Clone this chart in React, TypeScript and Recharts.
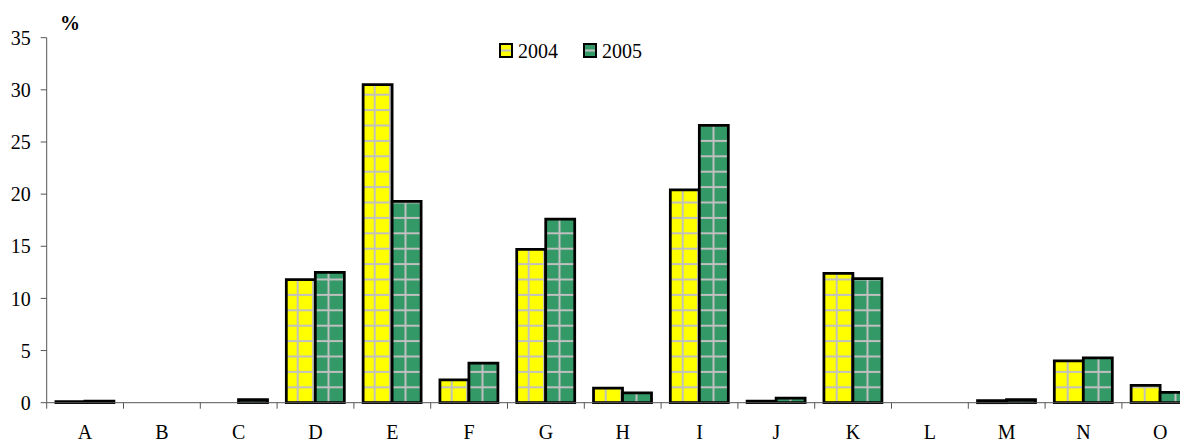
import React from 'react';
import { BarChart, Bar, XAxis, YAxis, Legend } from 'recharts';

const categories = ['A', 'B', 'C', 'D', 'E', 'F', 'G', 'H', 'I', 'J', 'K', 'L', 'M', 'N', 'O'];
const values2004 = [0.1, 0, 0, 11.8, 30.5, 2.2, 14.7, 1.4, 20.4, 0.15, 12.4, 0, 0.2, 4.0, 1.65];
const values2005 = [0.15, 0, 0.3, 12.5, 19.3, 3.8, 17.6, 0.95, 26.6, 0.45, 11.9, 0, 0.3, 4.3, 1.0];
const yTicks = [0, 5, 10, 15, 20, 25, 30, 35];
const seriesNames = ['2004', '2005'];

const data = categories.map((c, i) => ({ cat: c, v2004: values2004[i], v2005: values2005[i] }));

const W = 1200;
const H = 436;
const M = { top: 29.7, right: 9.3, bottom: 0, left: 0 };
const Y_W = 38.7;
const X_H = 41.3;
const PLOT_W = W - M.right - M.left - Y_W;
const BAND = PLOT_W / categories.length;
const FONT = '"Liberation Serif", "Times New Roman", serif';
const YELLOW = '#FFFF00';
const GREEN = '#339966';
const GRID = '#c0c0c0';
const AXIS = '#555';
const P = 15.4;

const XTick = (props: any) => {
  const { x, y, payload } = props;
  const lx = x - BAND / 2;
  return (
    <g>
      <line x1={lx} y1={y} x2={lx} y2={y + 6} stroke={AXIS} strokeWidth={1} />
      <text x={x} y={y + 36} textAnchor="middle" fontFamily={FONT} fontSize={20} fill="#000">
        {payload.value}
      </text>
    </g>
  );
};

const Swatch = ({ color }: { color: string }) => (
  <svg width={14} height={15} style={{ display: 'block' }}>
    <rect x={1} y={1} width={12} height={13} fill={color} stroke="#000" strokeWidth={2} />
    <rect x={2} y={6.5} width={10} height={2} fill={GRID} />
  </svg>
);

const LegendContent = () => (
  <div style={{ display: 'flex', alignItems: 'center', fontFamily: FONT, fontSize: 20, lineHeight: '20px', color: '#000' }}>
    <Swatch color={YELLOW} />
    <span style={{ marginLeft: 5, marginRight: 25 }}>{seriesNames[0]}</span>
    <Swatch color={GREEN} />
    <span style={{ marginLeft: 5 }}>{seriesNames[1]}</span>
  </div>
);

const PercentLabel = () => (
  <text x={62} y={22} textAnchor="middle" fontFamily={FONT} fontSize={20} fontWeight="bold" fill="#000">%</text>
);

export default function App() {
  return (
    <div style={{ width: 1180, height: 436, overflow: 'hidden', position: 'relative' }}>
      <BarChart
        width={W}
        height={H}
        data={data}
        margin={M}
        barCategoryGap="12%"
        barGap={0}
      >
        <defs>
          <pattern id="p2004" patternUnits="userSpaceOnUse" x={4.8} y={2.0} width={P} height={P}>
            <rect x={0} y={0} width={P} height={P} fill={YELLOW} />
            <rect x={6.7} y={0} width={2} height={P} fill={GRID} />
            <rect x={0} y={6.7} width={P} height={2} fill={GRID} />
          </pattern>
          <pattern id="p2005" patternUnits="userSpaceOnUse" x={4.8} y={2.0} width={P} height={P}>
            <rect x={0} y={0} width={P} height={P} fill={GREEN} />
            <rect x={6.7} y={0} width={2} height={P} fill={GRID} />
            <rect x={0} y={6.7} width={P} height={2} fill={GRID} />
          </pattern>
        </defs>
        <XAxis
          dataKey="cat"
          height={X_H}
          interval={0}
          tickSize={0}
          tickMargin={0}
          tickLine={false}
          axisLine={{ stroke: AXIS, strokeWidth: 1 }}
          tick={<XTick />}
        />
        <YAxis
          width={Y_W}
          domain={[0, 35]}
          ticks={yTicks}
          interval={0}
          tickSize={6}
          tickMargin={10}
          axisLine={{ stroke: AXIS, strokeWidth: 1 }}
          tickLine={{ stroke: AXIS, strokeWidth: 1 }}
          tick={{ fontFamily: FONT, fontSize: 20, fill: '#000' }}
          label={<PercentLabel />}
        />
        <Legend
          layout="horizontal"
          verticalAlign="middle"
          align="center"
          content={<LegendContent />}
          wrapperStyle={{ top: 32.7, left: 491, width: 'auto', height: 'auto' }}
        />
        <Bar dataKey="v2004" name={seriesNames[0]} fill="url(#p2004)" stroke="#000" strokeWidth={2.75} isAnimationActive={false} />
        <Bar dataKey="v2005" name={seriesNames[1]} fill="url(#p2005)" stroke="#000" strokeWidth={2.75} isAnimationActive={false} />
      </BarChart>
    </div>
  );
}
